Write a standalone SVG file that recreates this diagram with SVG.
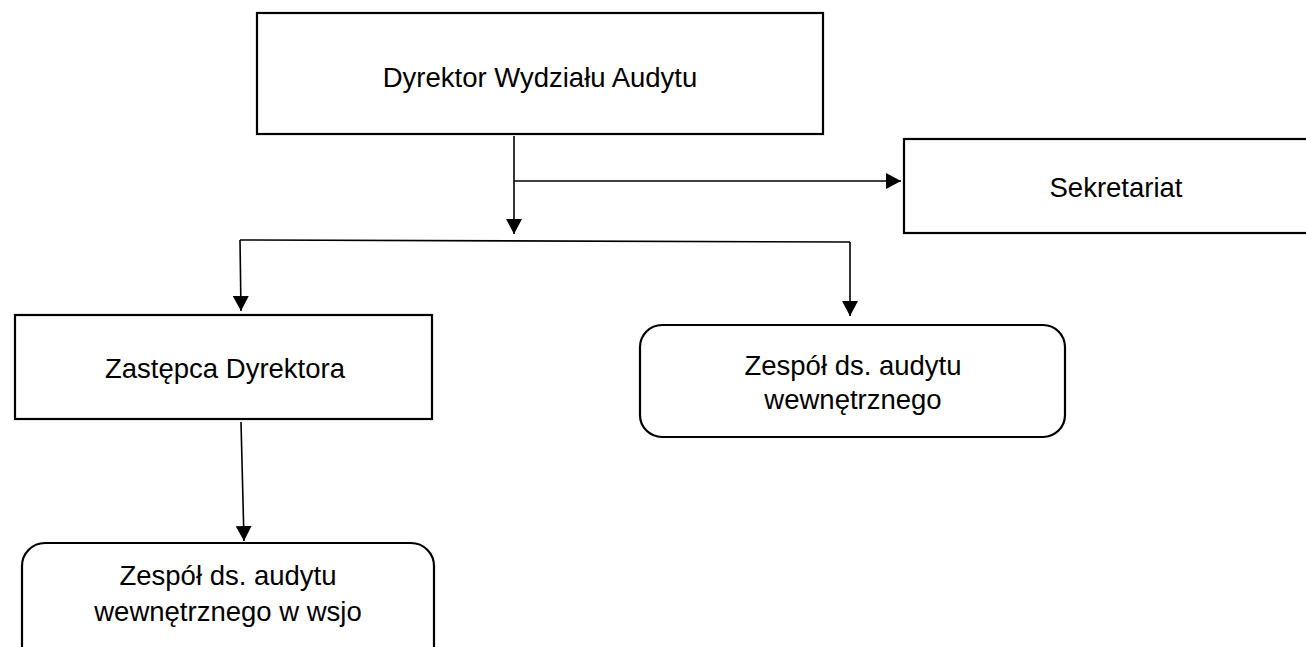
<svg xmlns="http://www.w3.org/2000/svg" width="1306" height="647" viewBox="0 0 1306 647">
<style>
.box{fill:#fff;stroke:#000;stroke-width:2.2}
.t{font-family:"Liberation Sans",Arial,sans-serif;font-size:27.5px;fill:#000;text-anchor:middle}
.c{fill:none;stroke:#000;stroke-width:1.6}
</style>
<defs>
<marker id="ah" viewBox="0 0 15 16" refX="15" refY="8" markerWidth="15" markerHeight="16" markerUnits="userSpaceOnUse" orient="auto">
<path d="M0,0 L15,8 L0,16 Z" fill="#000"/>
</marker>
</defs>
<rect width="1306" height="647" fill="#fff"/>
<g id="connectors">
<line class="c" x1="514" y1="136" x2="514" y2="234" marker-end="url(#ah)"/>
<line class="c" x1="514" y1="181" x2="901" y2="181" marker-end="url(#ah)"/>
<polyline class="c" points="240,240 850,242"/>
<line class="c" x1="240" y1="240" x2="241" y2="311" marker-end="url(#ah)"/>
<line class="c" x1="850" y1="242" x2="850" y2="316" marker-end="url(#ah)"/>
<line class="c" x1="241" y1="422" x2="244" y2="541" marker-end="url(#ah)"/>
</g>
<g id="dyrektor">
<rect class="box" x="257" y="13" width="566" height="121"/>
<text class="t" x="540" y="87">Dyrektor Wydziału Audytu</text>
</g>
<g id="sekretariat">
<rect class="box" x="904" y="139" width="410" height="94"/>
<text class="t" x="1116" y="197">Sekretariat</text>
</g>
<g id="zastepca">
<rect class="box" x="15" y="315" width="417" height="104"/>
<text class="t" x="225" y="378">Zastępca Dyrektora</text>
</g>
<g id="zespol">
<rect class="box" x="640" y="325" width="425" height="112" rx="22" ry="22"/>
<text class="t" x="853" y="375">Zespół ds. audytu</text>
<text class="t" x="853" y="409">wewnętrznego</text>
</g>
<g id="zespol-wsjo">
<rect class="box" x="22" y="543" width="412" height="130" rx="23" ry="23"/>
<text class="t" x="228" y="585">Zespół ds. audytu</text>
<text class="t" x="228" y="621">wewnętrznego w wsjo</text>
</g>
</svg>
